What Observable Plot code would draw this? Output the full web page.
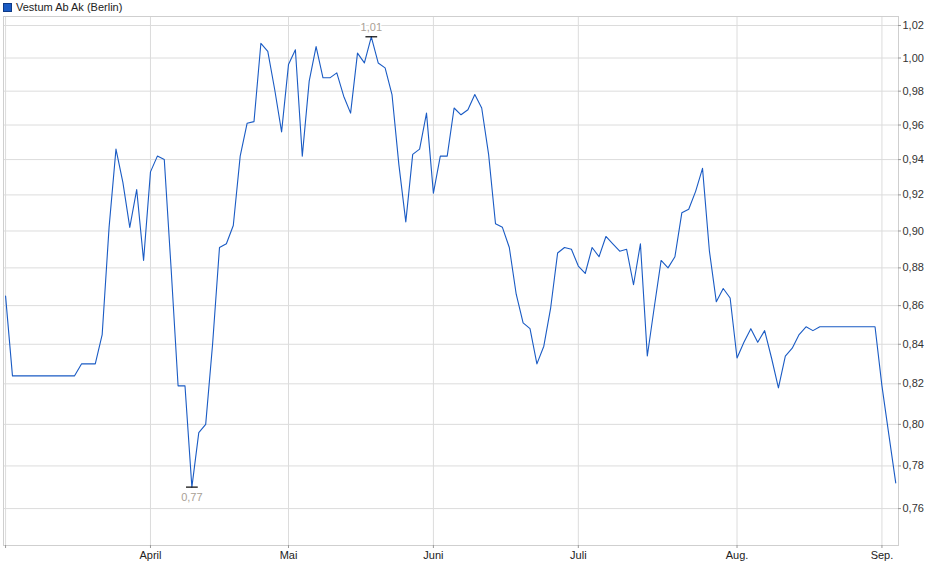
<!DOCTYPE html>
<html>
<head>
<meta charset="utf-8">
<script src="https://cdn.jsdelivr.net/npm/d3@7"></script>
<script src="https://cdn.jsdelivr.net/npm/@observablehq/plot@0.6"></script>
<style>
  html, body { margin: 0; padding: 0; background: #fff; }
  body { width: 940px; height: 579px; overflow: hidden; font-family: "Liberation Sans", Arial, sans-serif; }
  #legend { height: 14px; line-height: 14px; font-size: 11px; color: #222; position: relative; }
  #legend .sw { position: absolute; left: 3px; top: 3px; width: 7px; height: 7px; background: #1a5bc4; border: 1px solid #0f3a86; }
  #legend .lb { position: absolute; left: 16px; top: 0; }
  svg { display: block; }
</style>
</head>
<body>
<div id="legend"><span class="sw"></span><span class="lb">Vestum Ab Ak (Berlin)</span></div>
<div id="chart"></div>
<script>
// Trading-day index (0 = 3 Mar 2025) and closing prices (EUR)
const prices = [
  0.865,
  0.824, 0.824, 0.824, 0.824, 0.824, 0.824, 0.824, 0.824, 0.824, 0.824,
  0.830, 0.830, 0.830, 0.845, 0.902, 0.946, 0.927, 0.902, 0.923, 0.884,
  0.933, 0.942, 0.940, 0.879, 0.819, 0.819, 0.770, 0.796, 0.800, 0.840,
  0.891, 0.893, 0.903, 0.942, 0.961, 0.962, 1.009, 1.004, 0.981, 0.956,
  0.996, 1.005, 0.942, 0.986, 1.007, 0.988, 0.988, 0.991, 0.977, 0.967,
  1.003, 0.997, 1.013, 0.997, 0.994, 0.978, 0.937, 0.905, 0.943, 0.946,
  0.967, 0.921, 0.942, 0.942, 0.970, 0.966, 0.969, 0.978, 0.970, 0.943,
  0.904, 0.902, 0.891, 0.866, 0.851, 0.848, 0.830, 0.839, 0.859, 0.888,
  0.891, 0.890, 0.881, 0.877, 0.891, 0.886, 0.897, 0.893, 0.889, 0.890,
  0.871, 0.893, 0.834, 0.859, 0.884, 0.880, 0.886, 0.910, 0.912, 0.922,
  0.935, 0.889, 0.862, 0.869, 0.864, 0.833, 0.841, 0.848, 0.841, 0.847,
  0.833, 0.818, 0.834, 0.838, 0.845, 0.849, 0.847,
  0.849, 0.849, 0.849, 0.849, 0.849, 0.849, 0.849, 0.849, 0.849,
  0.819, 0.795, 0.772
];
// month ticks: trading-day index of first trading day of each month
const monthTickIndex = [0, 21, 41, 62, 83, 106, 127];
const monthTickLabels = ["", "April", "Mai", "Juni", "Juli", "Aug.", "Sep."];
const yTicks = [0.76, 0.78, 0.80, 0.82, 0.84, 0.86, 0.88, 0.90, 0.92, 0.94, 0.96, 0.98, 1.00, 1.02];
const yDomain = [0.7431, 1.0256];
const xDomain = [-0.3, 129.4];

const W = 940, ML = 3, MR = 42;
const data = prices.map((v, i) => ({i, v}));
const iMax = d3.maxIndex(prices);
const iMin = d3.minIndex(prices);
const fmt = v => v.toFixed(2).replace(".", ",");
const maxPt = [{i: iMax, v: prices[iMax], label: fmt(prices[iMax])}];
const minPt = [{i: iMin, v: prices[iMin], label: fmt(prices[iMin])}];
const extremes = maxPt.concat(minPt);
const xLabel = i => monthTickLabels[monthTickIndex.indexOf(i)] ?? "";
const frameW = W - ML - MR;

const chart = Plot.plot({
  width: W,
  height: 551,
  marginLeft: ML,
  marginRight: MR,
  marginTop: 2,
  marginBottom: 20,
  style: {fontFamily: "'Liberation Sans', Arial, sans-serif", fontSize: "11px", color: "#333", background: "#fff"},
  x: {domain: xDomain, axis: null},
  y: {type: "log", domain: yDomain, axis: null},
  marks: [
    Plot.ruleY(yTicks, {stroke: "#dcdcdc", strokeWidth: 1}),
    Plot.ruleX(monthTickIndex, {stroke: "#dcdcdc", strokeWidth: 1}),
    Plot.frame({stroke: "#cfcfcf"}),
    // right y axis: short tick marks outside the frame + labels
    Plot.tickY(yTicks, {y: d => d, stroke: "#999", insetLeft: frameW, insetRight: -3}),
    Plot.text(yTicks, {y: d => d, text: fmt, frameAnchor: "right", textAnchor: "start", dx: 4, fill: "#333", fontSize: 11}),
    Plot.axisX({anchor: "bottom", ticks: monthTickIndex, tickFormat: xLabel, tickSize: 3, tickPadding: 3, stroke: "#999", fill: "#222", label: null}),
    Plot.line(data, {x: "i", y: "v", stroke: "#1a5bc4", strokeWidth: 1.1}),
    Plot.link(extremes, {x1: d => d.i - 0.85, x2: d => d.i + 0.85, y1: "v", y2: "v", stroke: "#000", strokeWidth: 1.2}),
    Plot.text(maxPt, {x: "i", y: "v", text: "label", dy: -9, fill: "#a9a095", stroke: "#fff", strokeWidth: 3, fontSize: 11}),
    Plot.text(minPt, {x: "i", y: "v", text: "label", dy: 10, fill: "#a9a095", stroke: "#fff", strokeWidth: 3, fontSize: 11})
  ]
});
document.getElementById("chart").appendChild(chart);
</script>
</body>
</html>
